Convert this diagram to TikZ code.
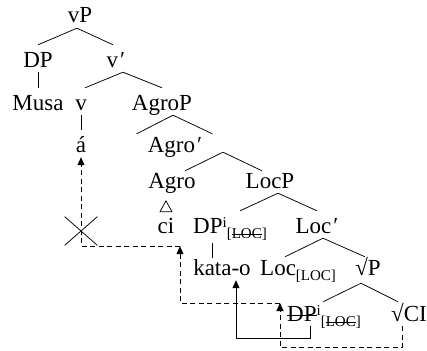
\documentclass[tikz,border=0pt]{standalone}
\usepackage{fontspec}
\setmainfont{Liberation Serif}
\usetikzlibrary{arrows.meta,shapes.misc}

\newsavebox\strkbox
\newcommand\strk[1]{\sbox\strkbox{#1}\rlap{\usebox\strkbox}\rule[0.5ex]{\wd\strkbox}{0.6pt}}
\newcommand\ftr[1]{\raisebox{-5pt}{\fontsize{15}{15}\selectfont[#1]}}
\newcommand\idx{\raisebox{6pt}{\fontsize{15}{15}\selectfont i}}

\begin{document}
\begin{tikzpicture}[x=1pt,y=-1pt,font=\fontsize{23}{27}\selectfont,line join=round,
  lbl/.style={anchor=base,inner xsep=0pt,inner ysep=2pt,text height=20pt,text depth=3pt},
  br/.style={line width=0.75pt},
  mv/.style={line width=0.9pt,-{Triangle[length=8pt,width=7pt]}},
  tr/.style={mv,dash pattern=on 5pt off 3.5pt}]
  \useasboundingbox (0,0) rectangle (427,350);
  % labels
  \node[lbl] (vP) at (80,23) {vP};
  \node[lbl] (DP) at (38,67) {DP};
  \node[lbl] (vbar) at (116,67) {v\kern2pt′};
  \node[lbl] (Musa) at (38,110) {Musa};
  \node[lbl] (v) at (81,110) {v};
  \node[lbl] (AgroP) at (162,110) {AgroP};
  \node[lbl] (a) at (81,152) {á};
  \node[lbl] (Agrobar) at (175,152) {Agro\kern2pt′};
  \node[lbl] (Agro) at (172,188) {Agro};
  \node[lbl] (LocP) at (270,188) {LocP};
  \node[lbl] (ci) at (166,233) {ci};
  \node[lbl,anchor=base west] (DPi) at (193,233) {DP\idx\ftr{\strk{LOC}}};
  \node[lbl] (Locbar) at (317,233) {Loc\kern2pt′};
  \node[lbl] (katao) at (222,275) {kata-o};
  \node[lbl,anchor=base west] (Loc) at (260,275) {Loc\ftr{LOC}};
  \node[lbl] (rootP) at (368,275) {√P};
  \node[lbl,anchor=base west] (DPlow) at (287,321) {\strk{DP}\idx\ftr{\strk{LOC}}};
  \node[lbl] (rootCI) at (409,321) {√CI};
  % branches
  \draw[br] ([xshift=-3pt]vP.south) -- (DP.north);
  \draw[br] ([xshift=-3pt]vP.south) -- ([xshift=-3pt]vbar.north);
  \draw[br] (DP.south) -- (Musa.north);
  \draw[br] ([xshift=7pt]vbar.south) -- ([xshift=4pt]v.north);
  \draw[br] ([xshift=7pt]vbar.south) -- (AgroP.north);
  \draw[br] (v.south) -- (a.north);
  \draw[br] ([xshift=11pt]AgroP.south) -- ([xshift=-11pt,yshift=-4pt]Agrobar.north west);
  \draw[br] ([xshift=11pt]AgroP.south) -- ([xshift=10pt,yshift=-4pt]Agrobar.north east);
  \draw[br] ([xshift=48pt,yshift=5pt]Agrobar.south) -- ([xshift=13pt,yshift=-5pt]Agro.north);
  \draw[br] ([xshift=48pt,yshift=5pt]Agrobar.south) -- ([xshift=-8pt,yshift=-5pt]LocP.north);
  \draw[br] ([xshift=8pt]LocP.south) -- ([xshift=47pt]DPi.north west);
  \draw[br] ([xshift=8pt]LocP.south) -- (Locbar.north);
  \draw[br] ([xshift=19pt,yshift=-5pt]DPi.south west) -- ([xshift=-10pt,yshift=-5pt]katao.north);
  \draw[br] ([xshift=6pt]Locbar.south) -- ([xshift=25pt,yshift=-4pt]Loc.north west);
  \draw[br] ([xshift=6pt]Locbar.south) -- ([xshift=-3pt,yshift=-4pt]rootP.north);
  \draw[br] ([xshift=-7pt,yshift=-3pt]rootP.south) -- ([xshift=36pt,yshift=-3pt]DPlow.north west);
  \draw[br] ([xshift=-7pt,yshift=-3pt]rootP.south) -- ([xshift=-11pt,yshift=-3pt]rootCI.north);
  % triangle under Agro
  \draw[br] ([xshift=-6pt,yshift=-1pt]ci.north) -- ++(12,0) -- ++(-6,-11) -- cycle;
  % blocked step
  \node[cross out,draw,line width=0.75pt,minimum width=32pt,minimum height=28pt,inner sep=0pt] (blk) at (81,231) {};
  % traces and movement
  \coordinate (ciT) at ([xshift=14pt,yshift=-8pt]ci.south);
  \coordinate (DPT) at ([xshift=-7pt,yshift=9.5pt]DPlow.west);
  \draw[tr] ([xshift=-7pt]rootCI.south) -- ++(0,21) -| (DPT);
  \draw[mv] ([xshift=23pt]DPlow.south west) -- ++(0,12) -| ([xshift=14pt]katao.south);
  \draw[tr] (DPT) -| (ciT);
  \draw[tr] (ciT) -| (a.south);
\end{tikzpicture}
\end{document}
